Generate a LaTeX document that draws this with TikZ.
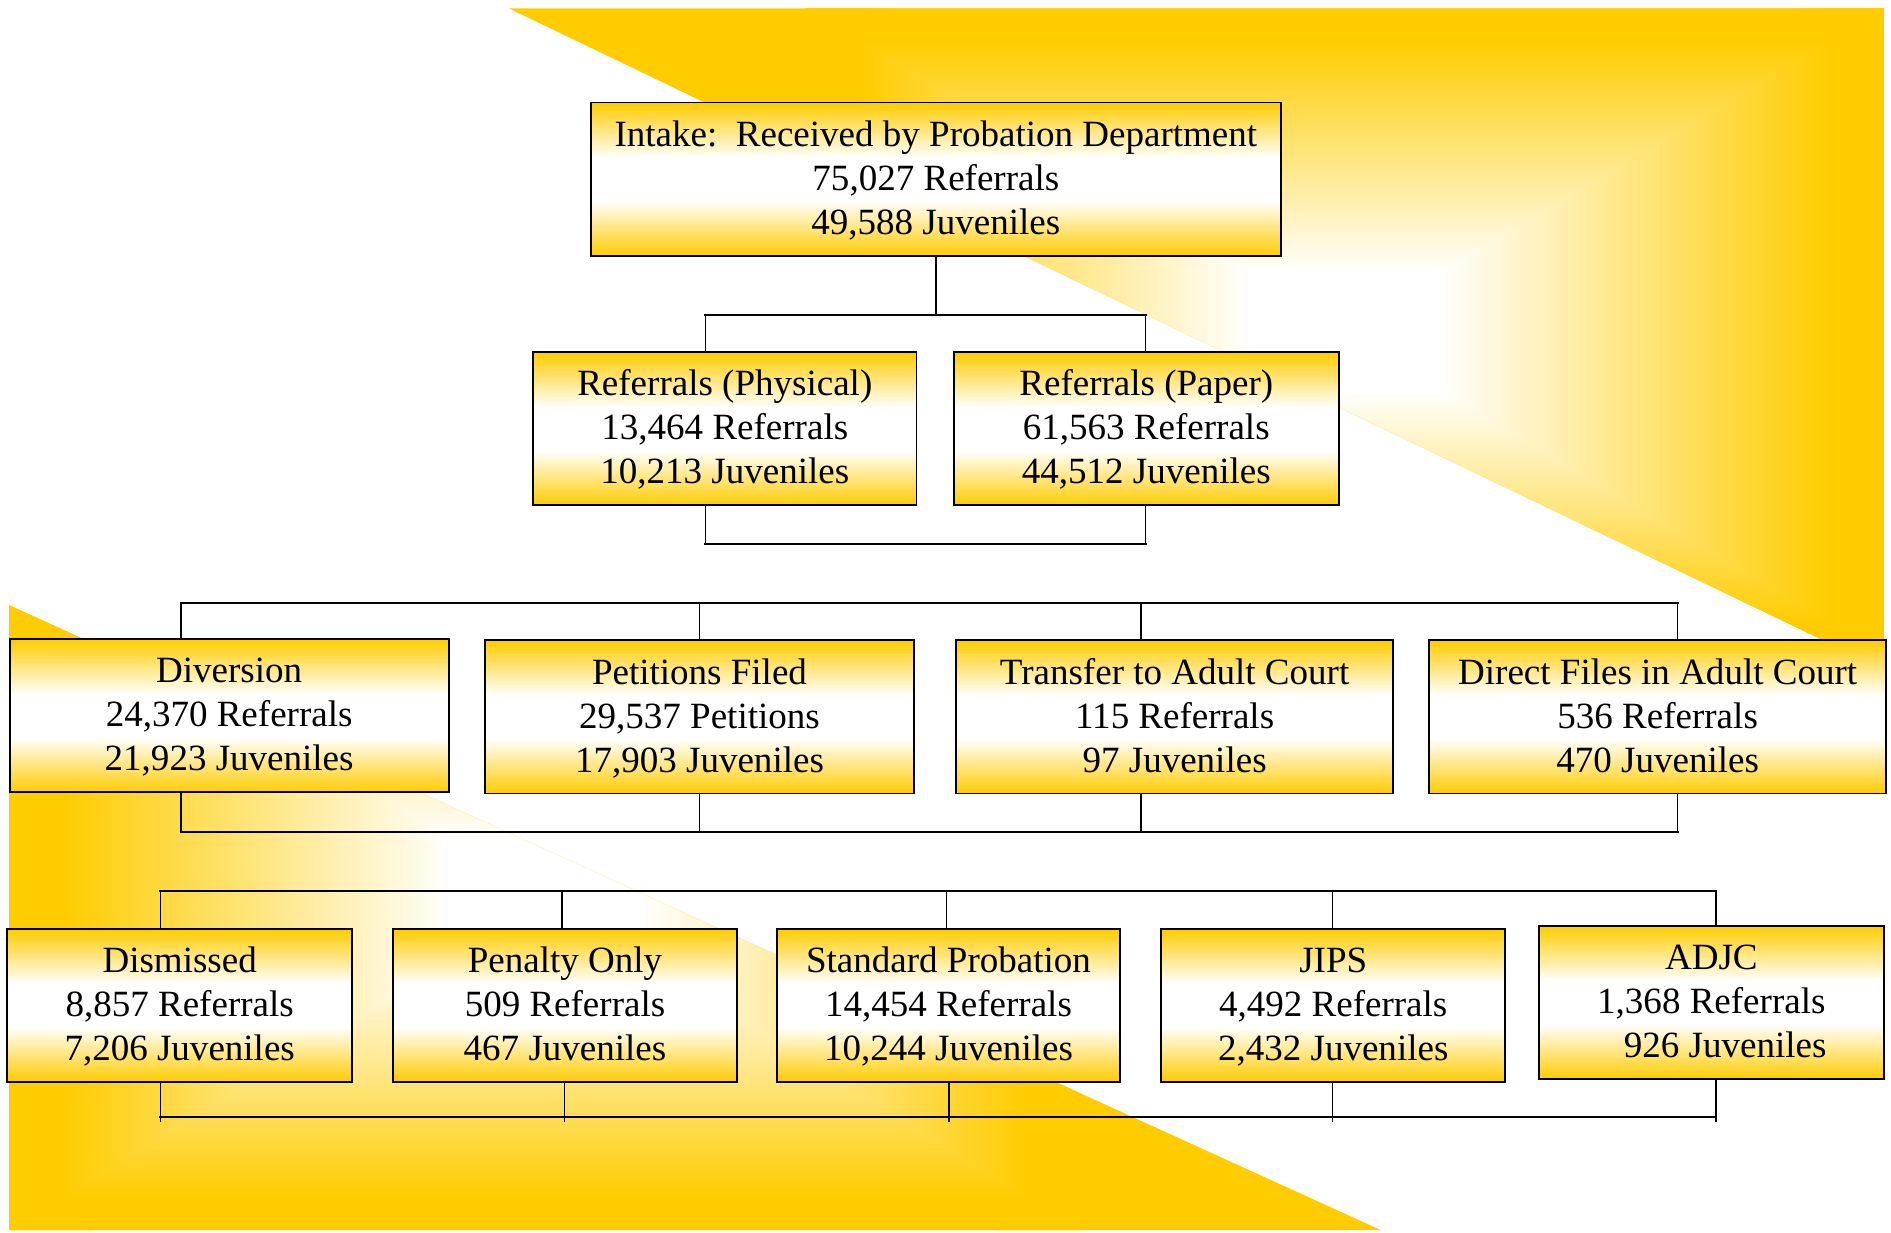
\documentclass[tikz,border=0pt]{standalone}
\usepackage{fontspec}
\setmainfont{Liberation Serif}
\definecolor{gold}{RGB}{255,204,0}
\pgfdeclareverticalshading{boxfill}{100bp}{color(0bp)=(gold); color(25bp)=(gold); color(43bp)=(white); color(57bp)=(white); color(75bp)=(gold); color(100bp)=(gold)}
% rectangular-gradient pieces: white core, gold at outer edge
\pgfdeclarehorizontalshading{gl}{100bp}{color(0bp)=(gold); color(30bp)=(gold); color(66bp)=(white); color(100bp)=(white)}
\pgfdeclarehorizontalshading{gr}{100bp}{color(0bp)=(white); color(34bp)=(white); color(70bp)=(gold); color(100bp)=(gold)}
\pgfdeclareverticalshading{gt}{100bp}{color(0bp)=(white); color(34bp)=(white); color(70bp)=(gold); color(100bp)=(gold)}
\pgfdeclareverticalshading{gb}{100bp}{color(0bp)=(gold); color(30bp)=(gold); color(66bp)=(white); color(100bp)=(white)}
\newcommand{\bxt}[3]{\rule{0pt}{29.5pt}#1\\#2\\#3\rule[-11pt]{0pt}{11pt}}
\begin{document}
\begin{tikzpicture}[x=1pt,y=-1pt,
  box/.style={draw=black, line width=1.5pt, shade, shading=boxfill, inner sep=0pt, align=center,
    minimum height=127pt, font=\fontsize{30.7}{36.5}\selectfont},
  hl/.style={line width=1.8pt, line cap=rect},
  vl/.style={line width=1.1pt}]
\useasboundingbox (0,0) rectangle (1568,1022);
\fill[white] (0,0) rectangle (1568,1022);
% top-right background shape (rectangular gradient centred at (1115,275))
\begin{scope}
  \clip (422,7) -- (1562,7) -- (1562,555) -- cycle;
  \fill[gold] (400,0) rectangle (1568,560);
  \shade[shading=gl] (1118,275) -- (668,-40) -- (668,590) -- cycle;
  \shade[shading=gr] (1112,275) -- (1562,-40) -- (1562,590) -- cycle;
  \shade[shading=gt] (1115,275) -- (668,7) -- (1562,7) -- cycle;
  \shade[shading=gb] (1115,275) -- (668,543) -- (1562,543) -- cycle;
\end{scope}
% bottom-left background shape (rectangular gradient centred at (452,745))
\begin{scope}
  \clip (8,502) -- (8,1020) -- (1145,1020) -- cycle;
  \fill[gold] (0,495) rectangle (1150,1022);
  \shade[shading=gl] (455,745) -- (8,420) -- (8,1070) -- cycle;
  \shade[shading=gr] (449,745) -- (896,420) -- (896,1070) -- cycle;
  \shade[shading=gt] (452,745) -- (8,470) -- (896,470) -- cycle;
  \shade[shading=gb] (452,745) -- (8,1020) -- (896,1020) -- cycle;
\end{scope}
% boxes
\node[box, minimum width=572pt] (intake) at (776,148.5) {\bxt{Intake:\ \ Received by Probation Department}{75,027 Referrals}{49,588 Juveniles}};
\node[box, minimum width=318pt] (phys) at (601,355.5) {\bxt{Referrals (Physical)}{13,464 Referrals}{10,213 Juveniles}};
\node[box, minimum width=319pt] (paper) at (950.5,355.5) {\bxt{Referrals (Paper)}{61,563 Referrals}{44,512 Juveniles}};
\node[box, minimum width=364pt] (div) at (190,593.5) {\bxt{Diversion}{24,370 Referrals}{21,923 Juveniles}};
\node[box, minimum width=356pt] (pet) at (580,594.5) {\bxt{Petitions Filed}{29,537 Petitions}{17,903 Juveniles}};
\node[box, minimum width=362pt] (trans) at (974,594.5) {\bxt{Transfer to Adult Court}{115 Referrals}{97 Juveniles}};
\node[box, minimum width=379pt] (direct) at (1374.5,594.5) {\bxt{Direct Files in Adult Court}{536 Referrals}{470 Juveniles}};
\node[box, minimum width=286pt] (dism) at (149,833.5) {\bxt{Dismissed}{8,857 Referrals}{7,206 Juveniles}};
\node[box, minimum width=285pt] (pen) at (468.5,833.5) {\bxt{Penalty Only}{509 Referrals}{467 Juveniles}};
\node[box, minimum width=285pt] (std) at (786.5,833.5) {\bxt{Standard Probation}{14,454 Referrals}{10,244 Juveniles}};
\node[box, minimum width=285pt] (jips) at (1105.5,833.5) {\bxt{JIPS}{4,492 Referrals}{2,432 Juveniles}};
\node[box, minimum width=286pt] (adjc) at (1419,831.5) {\bxt{ADJC}{1,368 Referrals}{\hspace*{23pt}926 Juveniles}};
% connectors: intake to referrals
\coordinate (a1) at (585,261);
\coordinate (a2) at (950,261);
\draw[hl] (a1) -- (a2);
\draw[vl] (intake.south) -- (intake.south |- a1);
\draw[vl] (a1) -- (a1 |- phys.north);
\draw[vl] (a2) -- (a2 |- paper.north);
\coordinate (b1) at (585,451);
\coordinate (b2) at (950,451);
\draw[hl] (b1) -- (b2);
\draw[vl] (b1 |- phys.south) -- (b1);
\draw[vl] (b2 |- paper.south) -- (b2);
% row 3 buses
\coordinate (c1) at (150,500);
\coordinate (c2) at (580,500);
\coordinate (c3) at (946,500);
\coordinate (c4) at (1391,500);
\draw[hl] (c1) -- (c4);
\draw[vl] (c1) -- (c1 |- div.north);
\draw[vl] (c2) -- (c2 |- pet.north);
\draw[vl] (c3) -- (c3 |- trans.north);
\draw[vl] (c4) -- (c4 |- direct.north);
\coordinate (d1) at (150,690);
\coordinate (d2) at (580,690);
\coordinate (d3) at (946,690);
\coordinate (d4) at (1391,690);
\draw[hl] (d1) -- (d4);
\draw[vl] (d1 |- div.south) -- (d1);
\draw[vl] (d2 |- pet.south) -- (d2);
\draw[vl] (d3 |- trans.south) -- (d3);
\draw[vl] (d4 |- direct.south) -- (d4);
% row 4 buses
\coordinate (e1) at (133,739);
\coordinate (e2) at (466,739);
\coordinate (e3) at (785,739);
\coordinate (e4) at (1105,739);
\coordinate (e5) at (1423,739);
\draw[hl] (e1) -- (e5);
\draw[vl] (e1) -- (e1 |- dism.north);
\draw[vl] (e2) -- (e2 |- pen.north);
\draw[vl] (e3) -- (e3 |- std.north);
\draw[vl] (e4) -- (e4 |- jips.north);
\draw[vl] (e5) -- (e5 |- adjc.north);
\coordinate (f1) at (133,926);
\coordinate (f2) at (468,926);
\coordinate (f3) at (787,926);
\coordinate (f4) at (1105,926);
\coordinate (f5) at (1423,926);
\draw[hl] (f1) -- (f5);
\draw[vl] (f1 |- dism.south) -- ++(0,33);
\draw[vl] (f2 |- pen.south) -- ++(0,33);
\draw[vl] (f3 |- std.south) -- ++(0,33);
\draw[vl] (f4 |- jips.south) -- ++(0,33);
\draw[vl] (f5 |- adjc.south) -- ++(0,35);
\end{tikzpicture}
\end{document}
